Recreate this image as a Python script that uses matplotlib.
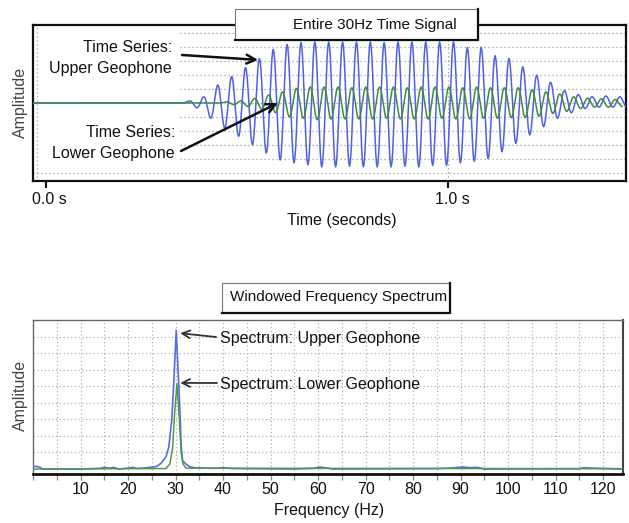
import numpy as np
import matplotlib
matplotlib.use("Agg")
import matplotlib.pyplot as plt
from matplotlib.patches import Rectangle
from matplotlib.lines import Line2D
from matplotlib.transforms import ScaledTranslation

plt.rcParams['font.family'] = ['Liberation Sans', 'DejaVu Sans']

W, H = 629, 523

# --- time signal: extrema (half-cycle by half-cycle) ---
half_period = 0.01722          # s, read from peak spacing
upper_start = 0.358            # s, first wiggle of upper trace
lower_start = 0.450            # s, first wiggle of lower trace
upper_extrema = [0.15, -0.35, 0.45, -1.1, 1.3, -1.8, 1.9, -2.4, 2.55, -3.0,
                 3.2, -3.6, 3.85, -4.1, 4.2, -4.3, 4.35, -4.45, 4.4,
                 -4.6, 4.4, -4.6, 4.4, -4.55, 4.4, -4.6, 4.4, -4.6, 4.35,
                 -4.6, 4.4, -4.55, 4.4, -4.6, 4.4, -4.5, 4.4, -4.5,
                 4.4, -4.3, 4.0, -4.2, 4.0, -4.0, 3.4, -3.5, 3.2, -2.9,
                 2.6, -2.3, 2.0, -1.7, 1.5, -1.1, 0.9,
                 -0.7, 0.6, -0.4, 0.45, -0.3, 0.5, -0.3, 0.45, -0.3]
lower_extrema = [0.08, -0.12, 0.15, -0.25, 0.33, -0.45, 0.57, -0.7, 0.8, -1.0,
                 1.05, -1.1, 1.15, -1.2,
                 1.15, -1.15, 1.15, -1.15, 1.1, -1.15, 1.15, -1.15, 1.15, -1.1,
                 1.15, -1.15, 1.1, -1.15, 1.15, -1.15, 1.15, -1.1, 1.15, -1.15,
                 1.1, -1.15, 1.15, -1.1, 1.1, -1.1, 1.1, -1.05,
                 1.1, -1.05, 0.95, -0.95, 0.8, -0.75, 0.65, -0.6, 0.45, -0.4,
                 0.35, -0.3, 0.3, -0.3, 0.25, -0.25]
time_ticks = [0.0, 1.0]
time_ticklabels = ['0.0 s', '1.0 s']

# --- spectrum ---
upper_freq = [0, 1, 1.5, 2, 10, 14, 15, 16, 17, 18, 20, 21, 22, 24, 26, 27,
              28, 28.6, 29.2, 29.6, 30.15, 30.7, 31.0, 31.2, 31.5, 32.2,
              32.9, 34, 38, 40, 42, 55, 59, 60.5, 62, 63, 85, 88, 90.5, 92,
              93, 94, 95, 115, 116, 117, 122, 124]
upper_amp = [0.15, 0.15, 0.1, 0.0, 0.0, 0.04, 0.1, 0.05, 0.1, 0.0, 0.05,
             0.1, 0.03, 0.08, 0.15, 0.36, 0.74, 1.35, 2.95, 5.0, 8.37, 5.0,
             2.95, 1.35, 0.5, 0.3, 0.15, 0.08, 0.04, 0.08, 0.03, 0.0, 0.04,
             0.12, 0.05, 0.0, 0.03, 0.06, 0.12, 0.08, 0.1, 0.08, 0.0, 0.02,
             0.08, 0.06, 0.02, 0.0]
lower_freq = [0, 28, 28.8, 29.4, 29.8, 30.3, 30.8, 31.2, 31.6, 32.2, 124]
lower_amp = [0.0, 0.03, 0.3, 1.3, 3.3, 5.16, 3.0, 1.0, 0.3, 0.05, 0.02]
freq_ticks = list(range(10, 121, 10))
freq_ticklabels = [str(f) for f in freq_ticks]

BLUE = '#4f5fe8'
GREEN = '#3c8c3c'


def wave(t0, extrema, t_begin):
    vals = [0.0] + list(extrema)
    ts, ys = [t_begin], [0.0]
    for i in range(len(vals) - 1):
        s = np.linspace(0, 1, 10)
        a, b = vals[i], vals[i + 1]
        ts.extend(t0 + (i - 1 + s) * half_period)
        ys.extend((a + b) / 2 + (a - b) / 2 * np.cos(np.pi * s))
    return np.array(ts), np.array(ys)


def fx(x):
    return x / W


def fy(y):
    return 1 - y / H


def title_box(x0, x1, y0, y1, text, tx, ty):
    fig.add_artist(Rectangle((fx(x0), fy(y1)), fx(x1) - fx(x0), fy(y0) - fy(y1),
                             transform=fig.transFigure, facecolor='white',
                             edgecolor='#777777', lw=0.8, zorder=5))
    fig.add_artist(Line2D([fx(x1), fx(x1), fx(x0)], [fy(y0), fy(y1), fy(y1)],
                          transform=fig.transFigure, color='#111111', lw=1.6,
                          zorder=6))
    fig.text(fx(tx), fy(ty), text, ha='center', va='center', fontsize=11,
             color='#111111', zorder=7)


fig = plt.figure(figsize=(W / 100, H / 100), dpi=100)

# ---------------- top panel ----------------
ax1 = fig.add_axes([fx(33), fy(181), fx(626) - fx(33), fy(25) - fy(181)])
t_lo, t_hi = -0.0323, 1.441
ax1.set_xlim(t_lo, t_hi)
ax1.set_ylim(-5.61, 5.61)
for v in range(-4, 6):
    ax1.hlines(v, 0.333, t_hi, colors='#9a9a9a', lw=0.9,
               linestyles=(0, (1, 2.2)), zorder=1)
ax1.hlines(-5, t_lo, t_hi, colors='#9a9a9a', lw=0.9,
           linestyles=(0, (1, 2.2)), zorder=1)
for v in (-0.022, 1.0):
    ax1.axvline(v, color='#9a9a9a', lw=0.9, ls=(0, (1, 2.2)), zorder=1)

tu, yu = wave(upper_start, upper_extrema, t_lo)
tl, yl = wave(lower_start, lower_extrema, t_lo)
ax1.plot(tu, yu, color=BLUE, lw=1.1, zorder=3)
ax1.plot(tl, yl, color=GREEN, lw=1.1, zorder=4)

ax1.set_yticks([])
ax1.set_xticks(time_ticks)
ax1.set_xticklabels(time_ticklabels, fontsize=11.5)
ax1.tick_params(axis='x', direction='out', length=5, width=1.5, pad=3,
                colors='#111111')
for lab in ax1.get_xticklabels():
    lab.set_transform(lab.get_transform() +
                      ScaledTranslation(3.5 / 100, 0, fig.dpi_scale_trans))
for sp in ax1.spines.values():
    sp.set_linewidth(1.6)
    sp.set_color('#111111')

fig.text(fx(20), fy(102), 'Amplitude', rotation=90, ha='center', va='center',
         fontsize=11.5, color='#444444')
fig.text(fx(342), fy(221), 'Time (seconds)', ha='center', va='center',
         fontsize=11.5, color='#111111')

fig.text(fx(172), fy(58), 'Time Series:\nUpper Geophone', ha='right',
         va='center', fontsize=11.5, linespacing=1.45, color='#111111')
fig.text(fx(175), fy(143), 'Time Series:\nLower Geophone', ha='right',
         va='center', fontsize=11.5, linespacing=1.45, color='#111111')
arrow_kw = dict(arrowstyle='->', lw=1.8, color='#111111', mutation_scale=16,
                shrinkA=0, shrinkB=0)
ax1.annotate('', xy=(0.527, 3.1), xycoords='data',
             xytext=(fx(182), fy(55)), textcoords='figure fraction',
             arrowprops=arrow_kw, zorder=8)
ax1.annotate('', xy=(0.576, 0.0), xycoords='data',
             xytext=(fx(181), fy(151)), textcoords='figure fraction',
             arrowprops=arrow_kw, zorder=8)

title_box(235, 478, 9, 40, 'Entire 30Hz Time Signal', 374.5, 25)

# ---------------- bottom panel ----------------
ax2 = fig.add_axes([fx(33), fy(474), fx(623) - fx(33), fy(320) - fy(474)])
ax2.set_xlim(0, 124.2)
ax2.set_ylim(-0.3, 9.0)
for v in range(1, 9):
    ax2.axhline(v, color='#b0b0b0', lw=0.9, ls=(0, (1, 2)), zorder=1)
for f in range(5, 125, 5):
    ax2.axvline(f, color='#b0b0b0', lw=0.9, ls=(0, (1, 2)), zorder=1)

ax2.plot(upper_freq, upper_amp, color='#5a68e6', lw=1.2, zorder=3)
ax2.plot(lower_freq, lower_amp, color='#4f9a45', lw=1.1, zorder=4)

ax2.set_yticks([])
ax2.set_xticks(freq_ticks)
ax2.set_xticklabels(freq_ticklabels, fontsize=11.5)
ax2.set_xticks(list(range(0, 125, 5)), minor=True)
ax2.tick_params(axis='x', which='both', direction='out', length=4, width=0.9,
                pad=2, color='#888888', labelcolor='#111111')
for name, sp in ax2.spines.items():
    sp.set_linewidth(1.0)
    sp.set_color('#666666')
ax2.spines['bottom'].set_linewidth(2.0)
ax2.spines['bottom'].set_color('#111111')
ax2.spines['right'].set_linewidth(1.5)
ax2.spines['right'].set_color('#444444')

fig.text(fx(20), fy(395), 'Amplitude', rotation=90, ha='center', va='center',
         fontsize=11.5, color='#444444')
fig.text(fx(329), fy(511), 'Frequency (Hz)', ha='center', va='center',
         fontsize=11.5, color='#111111')

fig.text(fx(220), fy(339), 'Spectrum: Upper Geophone', ha='left', va='center',
         fontsize=11.5, color='#111111')
fig.text(fx(220), fy(384), 'Spectrum: Lower Geophone', ha='left', va='center',
         fontsize=11.5, color='#111111')
arrow_kw2 = dict(arrowstyle='->', lw=1.3, color='#333333', mutation_scale=14,
                 shrinkA=0, shrinkB=0)
ax2.annotate('', xy=(31.0, 8.2), xycoords='data',
             xytext=(fx(216), fy(337)), textcoords='figure fraction',
             arrowprops=arrow_kw2, zorder=8)
ax2.annotate('', xy=(31.0, 5.2), xycoords='data',
             xytext=(fx(217), fy(383)), textcoords='figure fraction',
             arrowprops=arrow_kw2, zorder=8)

title_box(222, 450, 283, 313, 'Windowed Frequency Spectrum', 338.5, 297)

fig.savefig('out.png', dpi=100)
